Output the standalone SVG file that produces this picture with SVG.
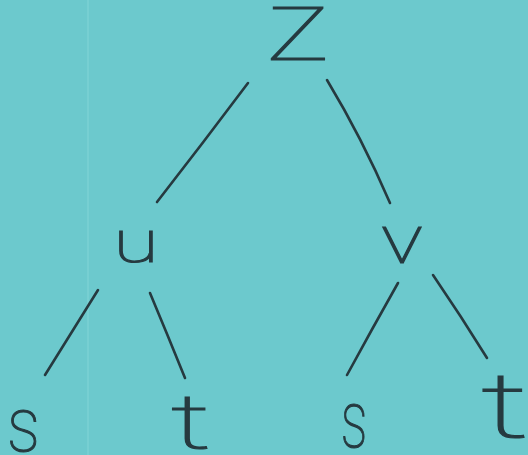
<svg xmlns="http://www.w3.org/2000/svg" width="528" height="455" viewBox="0 0 528 455">
<style>
.bg{fill:#6cc9cd}
.edge{fill:none;stroke:#263a40;stroke-width:2.6;stroke-linecap:round}
.lbl{font-family:Roboto,"Open Sans","DejaVu Sans",sans-serif;font-weight:100;fill:#263a40;stroke:#263a40;stroke-width:1.1;text-anchor:middle}
</style>
<rect class="bg" x="0" y="0" width="528" height="455"/>
<rect x="87" y="0" width="2" height="455" fill="#7fd3d6" opacity="0.6"/>
<g id="connectors">
<path class="edge" d="M248,83 Q203,143 157,202"/>
<path class="edge" d="M327,80 Q362,138 390,203"/>
<path class="edge" d="M98,290 Q71,333 45,375"/>
<path class="edge" d="M150,293 Q168,336 185,378"/>
<path class="edge" d="M398,283 Q372,329 347,375"/>
<path class="edge" d="M433,275 Q461,316 487,358"/>
</g>
<g id="node-z"><text class="lbl" transform="translate(298,60) scale(1.39,1)" font-size="75">Z</text></g>
<g id="node-u"><text class="lbl" transform="translate(136,262) scale(1.4,1)" font-size="60">u</text></g>
<g id="node-v"><text class="lbl" transform="translate(402,263) scale(1.29,1)" font-size="68">v</text></g>
<g id="node-s1"><text class="lbl" transform="translate(23.5,451) scale(0.87,1)" font-size="76">s</text></g>
<g id="node-t1"><text class="lbl" transform="translate(191,448) scale(1.7,1)" font-size="76">t</text></g>
<g id="node-s2"><text class="lbl" transform="translate(354,447) scale(0.67,1)" font-size="80">s</text></g>
<g id="node-t2"><text class="lbl" transform="translate(505,437) scale(1.7,1)" font-size="91">t</text></g>
</svg>
